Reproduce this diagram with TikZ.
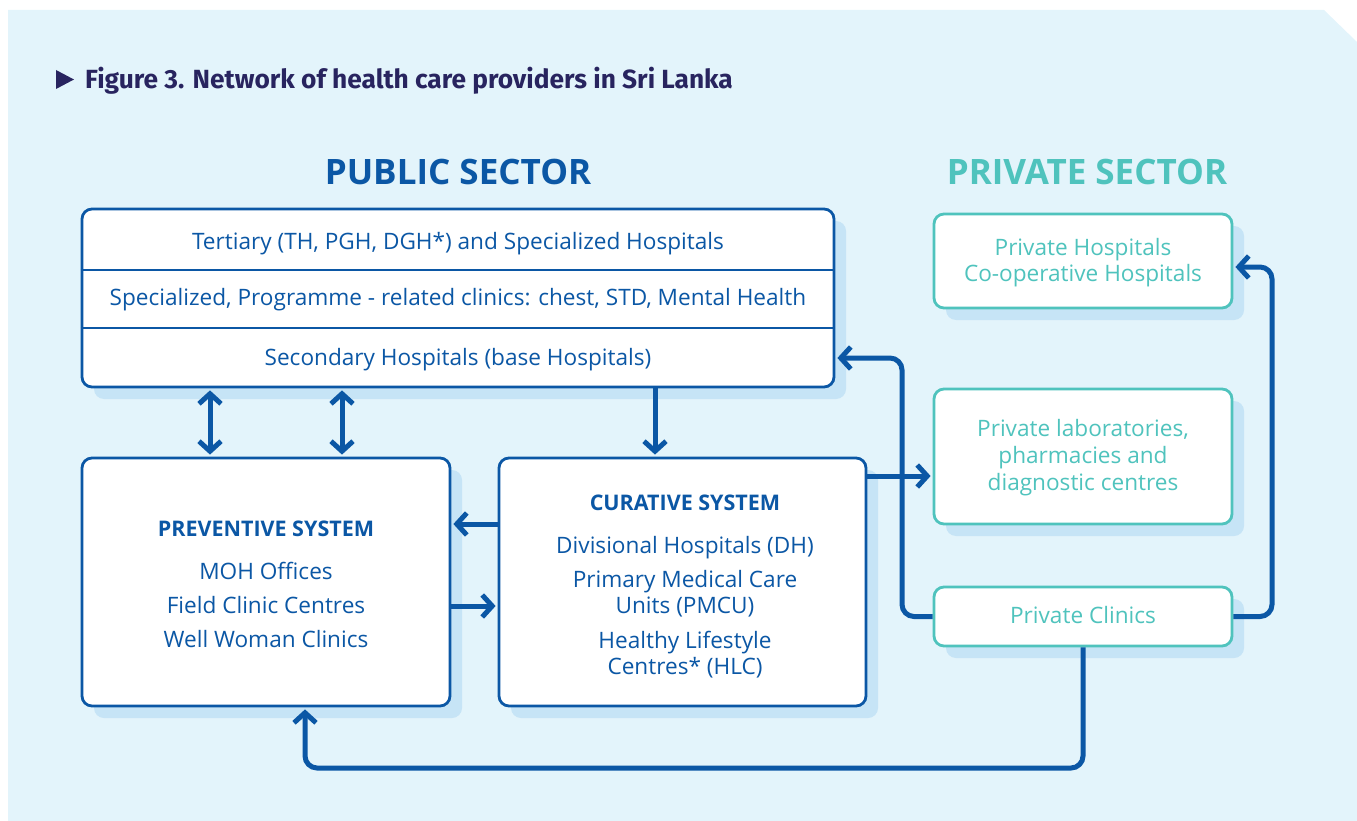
\documentclass[tikz,border=0pt]{standalone}
\usepackage{fontspec}
\setmainfont{Open Sans}
\newfontfamily\titlefont{Fira Sans}
\usetikzlibrary{arrows.meta,shadows,calc}
\definecolor{bgc}{HTML}{E3F4FB}
\definecolor{shc}{HTML}{C6E4F6}
\definecolor{dblue}{HTML}{0B57A5}
\definecolor{tealc}{HTML}{4FC3BD}
\definecolor{navy}{HTML}{28245F}
\begin{document}
\begin{tikzpicture}[x=1pt,y=-1pt,
  boxbase/.style={line width=2.8pt, fill=white, rounded corners=10pt, inner sep=0pt,
    drop shadow={shadow xshift=12pt, shadow yshift=-12pt, fill=shc, opacity=1}},
  pubbox/.style={boxbase, draw=dblue},
  privbox/.style={boxbase, draw=tealc},
  txt/.style={text=dblue, font=\fontsize{22.6}{27}\selectfont, anchor=base, inner sep=0pt},
  htxt/.style={text=dblue, font=\bfseries\fontsize{21.5}{26}\selectfont, anchor=base, inner sep=0pt},
  ptxt/.style={text=tealc, font=\fontsize{22.6}{27}\selectfont, anchor=base, inner sep=0pt},
  sect/.style={font=\bfseries\fontsize{35}{42}\selectfont, anchor=base, inner sep=0pt},
  divider/.style={draw=dblue, line width=2.8pt},
  arr/.style={draw=dblue, line width=5pt, rounded corners=12pt,
    -{Straight Barb[length=10pt,width=22pt]}, shorten >=2pt},
  darr/.style={draw=dblue, line width=5pt,
    {Straight Barb[length=10pt,width=22pt]}-{Straight Barb[length=10pt,width=22pt]},
    shorten >=2pt, shorten <=2pt}
]
\useasboundingbox (0,0) rectangle (1357,821);
\fill[bgc] (8,10) -- (1324,10) -- (1357,42) -- (1357,821) -- (8,821) -- cycle;

% title
\fill[navy] (56,70) -- (74,79.5) -- (56,89) -- cycle;
\node[anchor=base west, inner sep=0pt, text=navy, font=\titlefont\bfseries\fontsize{26.3}{30}\selectfont] (title) at (85,89) {Figure 3. Network of health care providers in Sri Lanka};

% sector headings
\node[sect, text=dblue] (pubh) at (458,185) {PUBLIC SECTOR};
\node[sect, text=tealc] (privh) at (1087,185) {PRIVATE SECTOR};

% boxes
\node[pubbox, minimum width=752pt, minimum height=178pt] (pub) at (458,298) {};
\node[pubbox, minimum width=368pt, minimum height=248pt] (prev) at (266,582) {};
\node[pubbox, minimum width=367pt, minimum height=248pt] (cur) at (682.5,582) {};
\node[privbox, minimum width=298pt, minimum height=94pt] (hosp) at (1083,261) {};
\node[privbox, minimum width=298pt, minimum height=135pt] (labs) at (1083,456.5) {};
\node[privbox, minimum width=298pt, minimum height=59pt] (clin) at (1083,616.5) {};

% dividers in the public box
\draw[divider] (pub.west |- 0,270) -- (pub.east |- 0,270);
\draw[divider] (pub.west |- 0,328) -- (pub.east |- 0,328);

% public box texts
\node[txt] (t1) at (458,249) {Tertiary (TH, PGH, DGH*) and Specialized Hospitals};
\node[txt] (t2) at (458,305) {Specialized, Programme - related clinics: chest, STD, Mental Health};
\node[txt] (t3) at (458,365) {Secondary Hospitals (base Hospitals)};

% preventive
\node[htxt] (p0) at (266,536) {PREVENTIVE SYSTEM};
\node[txt] (p1) at (266,579) {MOH Offices};
\node[txt] (p2) at (266,613) {Field Clinic Centres};
\node[txt] (p3) at (266,647) {Well Woman Clinics};

% curative
\node[htxt] (c0) at (685,510) {CURATIVE SYSTEM};
\node[txt] (c1) at (685,553) {Divisional Hospitals (DH)};
\node[txt] (c2) at (685,587) {Primary Medical Care};
\node[txt] (c3) at (685,613) {Units (PMCU)};
\node[txt] (c4) at (685,648) {Healthy Lifestyle};
\node[txt] (c5) at (685,674) {Centres* (HLC)};

% private texts
\node[ptxt] (h1) at (1083,255) {Private Hospitals};
\node[ptxt] (h2) at (1083,281) {Co-operative Hospitals};
\node[ptxt] (l1) at (1083,436) {Private laboratories,};
\node[ptxt] (l2) at (1083,463) {pharmacies and};
\node[ptxt] (l3) at (1083,490) {diagnostic centres};
\node[ptxt] (k1) at (1083,623) {Private Clinics};

% connectors
\draw[darr] (210,0 |- pub.south) -- (210,0 |- prev.north);
\draw[darr] (342,0 |- pub.south) -- (342,0 |- prev.north);
\draw[arr] (655,0 |- pub.south) -- (655,0 |- cur.north);
\draw[arr] (cur.west |- 0,524) -- (prev.east |- 0,524);
\draw[arr] (prev.east |- 0,606) -- (cur.west |- 0,606);
\draw[arr] (cur.east |- 0,476) -- (labs.west |- 0,476);
\draw[arr] (clin.west) -| (902,358) -- (pub.east |- 0,358);
\draw[arr] (clin.east) -| (1272,267) -- (hosp.east |- 0,267);
\draw[arr] (clin.south) |- (305,768) -- (305,0 |- prev.south);
\end{tikzpicture}
\end{document}
